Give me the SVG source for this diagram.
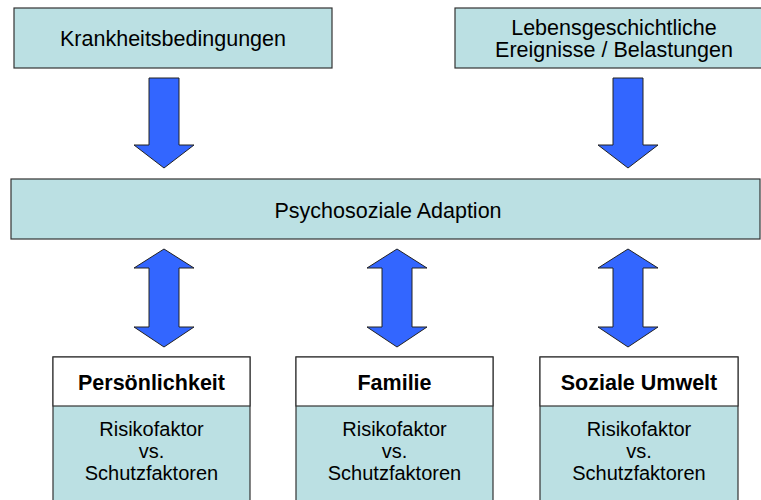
<svg xmlns="http://www.w3.org/2000/svg" width="761" height="500" viewBox="0 0 761 500">
<style>
.box{fill:#BBE0E3;stroke:#333333;stroke-width:1.2}
.wbox{fill:#FFFFFF;stroke:#333333;stroke-width:1.2}
.arr{fill:#3366FF;stroke:#222222;stroke-width:1}
text{font-family:"Liberation Sans",Arial,sans-serif;font-size:21.5px;fill:#000;text-anchor:middle}
.b{font-weight:bold}
.s{font-size:20px}
</style>
<rect width="761" height="500" fill="#FFFFFF"/>
<g id="krankheit">
<rect class="box" x="14" y="8" width="318" height="60"/>
<text x="173" y="46">Krankheitsbedingungen</text>
</g>
<g id="lebens">
<rect class="box" x="455" y="8" width="320" height="60"/>
<text x="614" y="35">Lebensgeschichtliche</text>
<text x="614" y="57">Ereignisse / Belastungen</text>
</g>
<g id="adaption">
<rect class="box" x="11" y="179" width="749" height="60"/>
<text x="388" y="218">Psychosoziale Adaption</text>
</g>
<g id="persoenlichkeit">
<rect class="box" x="53" y="357" width="197" height="150"/>
<rect class="wbox" x="53" y="357" width="197" height="49"/>
<text class="b" x="151.5" y="390">Persönlichkeit</text>
<text class="s" x="151.5" y="436">Risikofaktor</text>
<text class="s" x="151.5" y="458">vs.</text>
<text class="s" x="151.5" y="480">Schutzfaktoren</text>
</g>
<g id="familie">
<rect class="box" x="296" y="357" width="197" height="150"/>
<rect class="wbox" x="296" y="357" width="197" height="49"/>
<text class="b" x="394.5" y="390">Familie</text>
<text class="s" x="394.5" y="436">Risikofaktor</text>
<text class="s" x="394.5" y="458">vs.</text>
<text class="s" x="394.5" y="480">Schutzfaktoren</text>
</g>
<g id="umwelt">
<rect class="box" x="540" y="357" width="198" height="150"/>
<rect class="wbox" x="540" y="357" width="198" height="49"/>
<text class="b" x="639" y="390">Soziale Umwelt</text>
<text class="s" x="639" y="436">Risikofaktor</text>
<text class="s" x="639" y="458">vs.</text>
<text class="s" x="639" y="480">Schutzfaktoren</text>
</g>
<g id="connectors">
<polygon class="arr" points="149,78 179,78 179,145 194,145 164,168 134,145 149,145"/>
<polygon class="arr" points="613,78 643,78 643,145 658,145 628,168 598,145 613,145"/>
<polygon class="arr" points="164,249 194,268 179,268 179,327 194,327 164,347 134,327 149,327 149,268 134,268"/>
<polygon class="arr" points="397,249 427,268 412,268 412,327 427,327 397,347 367,327 382,327 382,268 367,268"/>
<polygon class="arr" points="628,249 658,268 643,268 643,327 658,327 628,347 598,327 613,327 613,268 598,268"/>
</g>
</svg>
